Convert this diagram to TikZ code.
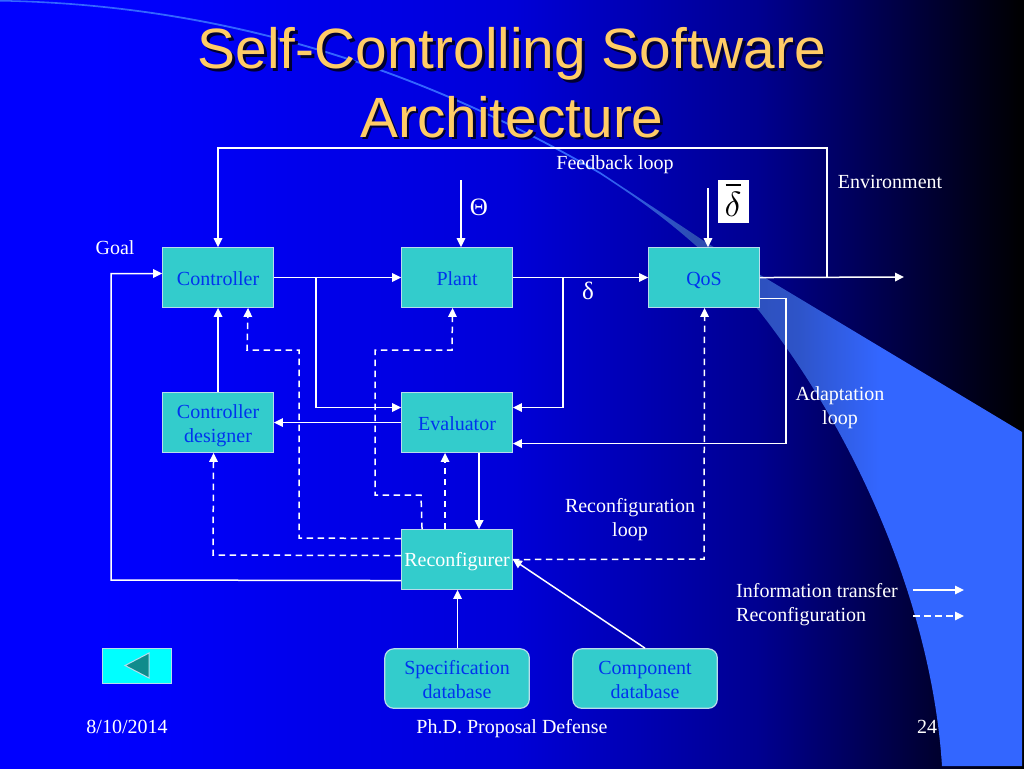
\documentclass[tikz,border=0pt]{standalone}
\usepackage{fontspec}
\usepackage{graphicx}
\setmainfont{Liberation Serif}
\newfontfamily\titlefont{Liberation Sans}
\usetikzlibrary{arrows.meta,calc}
\definecolor{boxfill}{HTML}{33CCCC}
\definecolor{boxline}{HTML}{B8DCEC}
\definecolor{boxtext}{HTML}{0033EE}
\definecolor{titlecol}{HTML}{FFCC66}
\definecolor{swooshcol}{HTML}{3366FF}
\definecolor{swooshdim}{HTML}{2C4CB0}
\definecolor{bgA}{HTML}{0000FF}
\definecolor{bgB}{HTML}{0000D8}
\definecolor{bgC}{HTML}{000090}
\definecolor{bgD}{HTML}{000000}
\definecolor{btnfill}{HTML}{00FFFF}
\definecolor{btntri}{HTML}{108C8C}
\pgfdeclarehorizontalshading{bgshade}{100bp}{color(0bp)=(bgA); color(30bp)=(bgA); color(50bp)=(bgB); color(62bp)=(bgC); color(75bp)=(bgD); color(100bp)=(bgD)}
\pgfdeclarehorizontalshading{swshade}{100bp}{color(0bp)=(swooshcol); color(54bp)=(swooshcol); color(59bp)=(swooshdim); color(64bp)=(swooshdim!70!swooshcol); color(68bp)=(swooshcol); color(100bp)=(swooshcol)}
\newcommand{\linestrut}{\rule[-4pt]{0pt}{23pt}}
\newcommand{\labstrut}{\rule[-4pt]{0pt}{21pt}}
\newcommand{\twolines}[2]{\makebox[0pt][c]{\raisebox{4pt}[0pt][0pt]{#1}}\makebox[0pt][c]{\raisebox{-20pt}[0pt][0pt]{#2}}}
\tikzset{
  blockbase/.style={draw=boxline,line width=1.2pt,fill=boxfill,text=boxtext,font=\fontsize{20}{24}\selectfont,inner sep=0pt,anchor=north west,minimum width=110.5pt,minimum height=59.5pt},
  block/.style={blockbase,execute at begin node=\linestrut},
  dbblock/.style={blockbase,rounded corners=9pt,minimum width=144.5pt},
  labbase/.style={text=white,font=\fontsize{20}{24}\selectfont,inner sep=0pt},
  lab/.style={labbase,execute at begin node=\labstrut},
  symb/.style={text=white,font=\fontsize{25}{25}\selectfont,inner sep=0pt},
  titletext/.style={font=\titlefont\fontsize{56.8}{60}\selectfont,inner sep=0pt},
  conn/.style={draw=white,line width=1.5pt,-{Triangle[length=9pt,width=8.5pt]}},
  dashconn/.style={conn,dash pattern=on 6.5pt off 4.5pt},
}
\begin{document}
\begin{tikzpicture}[x=1pt,y=-1pt]
\useasboundingbox (0,0) rectangle (1024,768);
% background
\shade[shading=bgshade] (0,0) rectangle (1024,768);
% swoosh
\shade[shading=swshade] (0,0) .. controls (190,3) and (390,50) .. (600,172) -- (707,243) -- (1022,432) -- (1022,766) -- (942,766)
  .. controls (932,610) and (860,440) .. (760,312)
  .. controls (700,240) and (640,200) .. (600,174)
  .. controls (390,52) and (190,5) .. (0,1.5) -- cycle;
% title
\node[titletext,text=black!80!blue] (t1s) at (514.5,56.5) {Self-Controlling Software};
\node[titletext,text=black!80!blue] (t2s) at (514.5,119.5) {Architecture};
\node[titletext,text=titlecol] (t1) at (512,54) {Self-Controlling Software};
\node[titletext,text=titlecol] (t2) at (512,117) {Architecture};
% boxes
\node[block] (ctrl) at (162.2,247.2) {Controller};
\node[block] (plant) at (401.2,247.2) {Plant};
\node[block] (qos) at (648.2,247.2) {QoS};
\node[blockbase] (cdes) at (162.2,392.2) {\twolines{Controller}{designer}};
\node[block] (eval) at (401.2,392.2) {Evaluator};
\node[block,text=white] (reconf) at (401.2,529.2) {Reconfigurer};
\node[dbblock] (spec) at (384.2,648.2) {\twolines{Specification}{database}};
\node[dbblock] (comp) at (572.2,648.2) {\twolines{Component}{database}};
% free ends
\coordinate (thetain) at (461,180);
\coordinate (dbarin) at (708,188);
\coordinate (envout) at (904,277);
\coordinate (fbj) at (827,277);
\coordinate (ctrlj) at (316,277);
\coordinate (plantj) at (563,277);
% solid connectors
\draw[conn] (ctrl.east) -- (plant.west);
\draw[conn] (plant.east) -- (qos.west);
\draw[conn] (qos.east) -- (envout);
\draw[conn] (fbj) -- (827,148) -| (ctrl.north);
\draw[conn] (thetain) -- (thetain |- plant.north);
\draw[conn] (dbarin) -- (dbarin |- qos.north);
\draw[conn] (ctrlj) |- ([yshift=15pt]eval.west);
\draw[conn] (plantj) |- ([yshift=15pt]eval.east);
\draw[conn] ([yshift=-21pt]qos.east) -- ++(26,0) |- ([yshift=-21pt]eval.east);
\draw[conn] (eval.west) -- (cdes.east);
\draw[conn] (cdes.north) -- (ctrl.south);
\draw[conn] ([xshift=22pt]eval.south) -- ([xshift=22pt]reconf.north);
\draw[conn] ([yshift=-21pt]reconf.west) -- (111,580) |- ([yshift=4pt]ctrl.west);
\draw[conn] ([xshift=0.5pt]spec.north) -- ([xshift=0.5pt]reconf.south);
\draw[conn] (comp.north) -- (reconf.east);
% dashed connectors
\draw[dashconn] ([yshift=21pt]reconf.west) -- (299,538) -- (299,350) -- (247,350) -- ([xshift=30pt]ctrl.south);
\draw[dashconn] ([yshift=4pt]reconf.west) -- (213,555) -- ([xshift=-4.5pt]cdes.south);
\draw[dashconn] ([xshift=-35pt]reconf.north) -- (421,495) -- (375,495) -- (375,350) -- (452,350) -- ([xshift=-4.5pt]plant.south);
\draw[dashconn] ([xshift=-12pt]reconf.north) -- ([xshift=-12pt]eval.south);
\draw[dashconn] (reconf.east) -- (704,559) -- ([xshift=0.5pt]qos.south);
% labels
\node[lab] (goal) at (115,248) {Goal};
\node[lab] (fb) at (615,163) {Feedback loop};
\node[symb] (theta) at (479,207) {Θ};
\node[symb] (delta) at (588,291) {δ};
\node[lab] (envl) at (890,182) {Environment};
\node[labbase] (adapt) at (840,404) {\twolines{Adaptation}{loop}};
\node[labbase] (recl) at (630,516) {\twolines{Reconfiguration}{loop}};
\node[fill=white,minimum width=31pt,minimum height=43pt,inner sep=0pt] (dbar) at (733,201) {};
\node[inner sep=0pt,text=black] (dbarsym) at (733,204) {\scalebox{3.5}{$\delta$}};
\draw[black,line width=1.2pt] ([xshift=-7.5pt,yshift=16pt]dbar.center) -- ([xshift=7.5pt,yshift=16pt]dbar.center);
% legend
\node[labbase,anchor=base west] (leg1) at (736,597) {Information transfer};
\node[labbase,anchor=base west] (leg2) at (736,621) {Reconfiguration};
\coordinate (l1a) at (913,590); \coordinate (l1b) at (964,590);
\coordinate (l2a) at (913,616); \coordinate (l2b) at (964,616);
\draw[conn] (l1a) -- (l1b);
\draw[dashconn] (l2a) -- (l2b);
% back button
\node[draw=boxline,line width=1pt,fill=btnfill,minimum width=68.5pt,minimum height=34.5pt,inner sep=0pt,anchor=north west] (back) at (102,648) {};
\draw[draw=boxline,line width=1pt,fill=btntri] (125,665.5) -- (149,653) -- (149,678) -- cycle;
% footer
\node[lab] (date) at (127,727) {8/10/2014};
\node[lab] (talk) at (512,727) {Ph.D. Proposal Defense};
\node[lab] (page) at (927,727) {24};
\end{tikzpicture}
\end{document}
